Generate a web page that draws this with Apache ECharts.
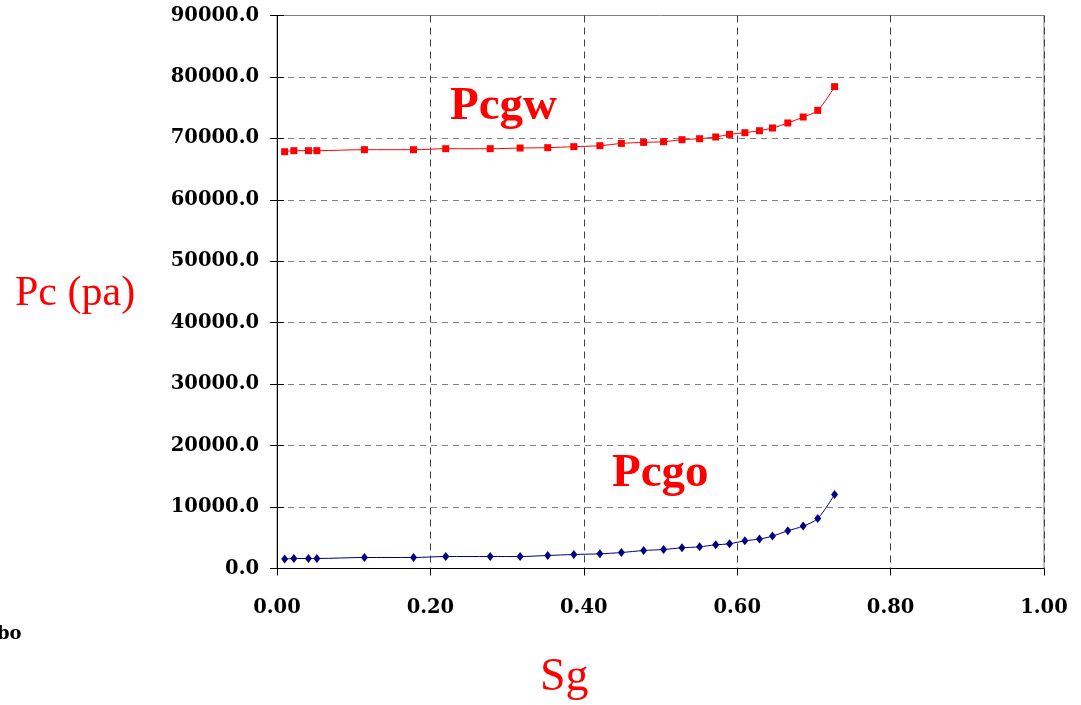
<!DOCTYPE html>
<html>
<head>
<meta charset="utf-8">
<script src="https://cdn.jsdelivr.net/npm/echarts@6/dist/echarts.min.js"></script>
<style>
  html, body { margin: 0; padding: 0; background: #fff; }
  #main { width: 1081px; height: 705px; }
</style>
</head>
<body>
<div id="main"></div>
<script>
// gas saturation
var sg = [0.010, 0.022, 0.041, 0.052, 0.114, 0.178, 0.220, 0.278, 0.317, 0.353,
          0.387, 0.421, 0.449, 0.478, 0.504, 0.528, 0.551, 0.572, 0.590, 0.610,
          0.629, 0.646, 0.666, 0.686, 0.705, 0.727];
// gas-water capillary pressure (pa)
var pcgw = [67830, 68000, 68000, 68000, 68160, 68160, 68320, 68320, 68430, 68490,
            68650, 68810, 69180, 69350, 69460, 69790, 69950, 70230, 70650, 70930,
            71250, 71690, 72510, 73480, 74560, 78420];
// gas-oil capillary pressure (pa)
var pcgo = [1530, 1630, 1630, 1630, 1790, 1790, 1950, 1950, 1950, 2120,
            2280, 2390, 2600, 2930, 3090, 3370, 3530, 3860, 4020, 4510,
            4790, 5270, 6140, 6900, 8140, 12050];

function pairs(xs, ys) {
  var out = [];
  for (var i = 0; i < xs.length; i++) out.push([xs[i], ys[i]]);
  return out;
}

var chart = echarts.init(document.getElementById('main'));
var tickFont = 'DejaVu Serif';
var red = '#ff0000';

var option = {
  backgroundColor: '#ffffff',
  animation: false,
  grid: {
    left: 277, right: 37, top: 15.5, bottom: 136.5,
    show: true, borderColor: '#808080', borderWidth: 1
  },
  xAxis: {
    type: 'value', min: 0, max: 1, interval: 0.2,
    axisLine: { lineStyle: { color: '#000', width: 1 } },
    axisTick: { show: true, length: 7, lineStyle: { color: '#000' } },
    axisLabel: {
      margin: 29, color: '#000', fontFamily: tickFont, fontWeight: 'bold', fontSize: 19.5,
      formatter: function (v) { return v.toFixed(2); }
    },
    splitLine: { show: true, lineStyle: { color: '#404040', type: [7, 5] } }
  },
  yAxis: [{
    type: 'value', min: 0, max: 90000, interval: 10000,
    axisLine: { show: true, lineStyle: { color: '#000', width: 1 } },
    axisTick: { show: true, length: 7, lineStyle: { color: '#000' } },
    axisLabel: {
      margin: 18, color: '#000', fontFamily: tickFont, fontWeight: 'bold', fontSize: 19.5,
      formatter: function (v) { return v.toFixed(1); }
    },
    splitLine: { show: true, lineStyle: { color: '#808080', type: [6, 5] } }
  }, {
    // inner half of the crossing tick marks
    type: 'value', min: 0, max: 90000, interval: 10000, position: 'left',
    axisLine: { show: false },
    axisTick: { show: true, inside: true, length: 7, lineStyle: { color: '#000' } },
    axisLabel: { show: false },
    splitLine: { show: false }
  }],
  series: [{
    name: 'Pcgw', type: 'line', smooth: 0.3,
    data: pairs(sg, pcgw),
    symbol: 'rect', symbolSize: 7,
    lineStyle: { color: red, width: 1 },
    itemStyle: { color: red }
  }, {
    name: 'Pcgo', type: 'line', smooth: 0.3,
    data: pairs(sg, pcgo),
    symbol: 'diamond', symbolSize: [7, 9],
    lineStyle: { color: '#000080', width: 1 },
    itemStyle: { color: '#000080' }
  }],
  graphic: [
    { type: 'text', x: 450, y: 106.7,
      style: { text: 'Pcgw', font: 'bold 47px "Liberation Serif"', fill: red, verticalAlign: 'middle' } },
    { type: 'text', x: 612, y: 474,
      style: { text: 'Pcgo', font: 'bold 47px "Liberation Serif"', fill: red, verticalAlign: 'middle' } },
    { type: 'text', x: 15, y: 294,
      style: { text: 'Pc (pa)', font: '42px "Liberation Serif"', fill: red, verticalAlign: 'middle' } },
    { type: 'text', x: 540, y: 678,
      style: { text: 'Sg', font: '46px "Liberation Serif"', fill: red, verticalAlign: 'middle' } },
    { type: 'text', x: -3, y: 634,
      style: { text: 'bo', font: 'bold 18px "DejaVu Serif"', fill: '#000', verticalAlign: 'middle' } }
  ]
};
chart.setOption(option);
</script>
</body>
</html>
